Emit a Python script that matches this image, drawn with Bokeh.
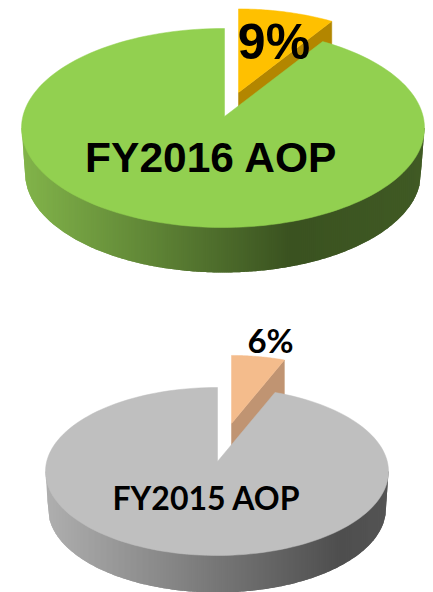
import math
from bokeh.plotting import figure
from bokeh.models import Range1d
from bokeh.core.properties import value
from bokeh.embed import file_html
from bokeh.resources import INLINE

# Data
fy2016_share = 9
fy2015_share = 6
fy2016_label = "FY2016 AOP"
fy2015_label = "FY2015 AOP"
fy2016_pct = "9%"
fy2015_pct = "6%"

PERSPECTIVE = 0.915  # foreshortening of the angle on the tilted disc

p = figure(width=433, height=592, x_range=Range1d(0, 433), y_range=Range1d(592, 0),
           output_backend="svg", toolbar_location=None, min_border=0,
           outline_line_color=None, background_fill_color="white", border_fill_color="white")
p.axis.visible = False
p.grid.visible = False


def arc(cx, cy, rx, ry, a0, a1, n=160):
    xs, ys = [], []
    for i in range(n + 1):
        t = math.radians(a0 + (a1 - a0) * i / n)
        xs.append(cx + rx * math.sin(t))
        ys.append(cy - ry * math.cos(t))
    return xs, ys


def mix(stops, x):
    for (x0, c0), (x1, c1) in zip(stops, stops[1:]):
        if x <= x1:
            f = max(0.0, (x - x0) / (x1 - x0))
            return "#%02x%02x%02x" % tuple(round(a + (b - a) * f) for a, b in zip(c0, c1))
    return "#%02x%02x%02x" % stops[-1][1]


def pie(share, c, rx, ry, apex, depth, bottom_rx, slice_apex, slice_scale,
        face, slice_face, slice_side, side_stops):
    cx, cy = c
    ax, ay = apex
    theta = 360 * share / 100 * PERSPECTIVE

    # slice: exploded copy of the wedge
    sa_x, sa_y = slice_apex
    sc_x = sa_x + slice_scale * (cx - ax)
    sc_y = sa_y + slice_scale * (cy - ay)
    srx, sry = rx * slice_scale, ry * slice_scale
    start = math.degrees(math.asin((ax - cx) / rx))
    s_start = math.degrees(math.asin((sa_x - sc_x) / srx))
    s_end = theta
    xs, ys = arc(sc_x, sc_y, srx, sry, s_start, s_end, 40)
    # slice side, drawn behind both faces
    ex, ey = xs[-1], ys[-1]
    p.patch([sa_x, ex, ex, sa_x], [sa_y, ey, ey + depth, sa_y + depth],
            fill_color=slice_side, line_color=slice_side, line_width=0.5)
    p.patch(xs + [sa_x], ys + [sa_y], fill_color=slice_face, line_color=slice_face, line_width=0.5)

    # disc side: each strip reaches past its right neighbour's start and is
    # painted over by it, so neighbouring colours meet without a seam
    by, br = cy + depth, bottom_rx

    def lower(x):
        d = abs(x - cx)
        if d >= rx:
            return cy
        if d <= br:
            return by + ry * math.sqrt(1 - (d / br) ** 2)
        return cy + depth * (rx - d) / (rx - br)

    sx, sy, cols = [], [], []
    x = cx - rx
    end = cx + rx
    while x < end:
        x1 = min(x + 2, end)
        x2 = min(x + 4, end)
        sx.append([x, x2, x2, x1, x])
        sy.append([cy, cy, lower(x2), lower(x1), lower(x)])
        cols.append(mix(side_stops, (x + x1) / 2))
        x = x1
    p.patches(sx, sy, fill_color=cols, line_color=None)

    # top face with the wedge cut out
    xs, ys = arc(cx, cy, rx, ry, theta, 360 + start)
    p.patch([ax] + xs, [ay] + ys, fill_color=face, line_color=face, line_width=0.5)


pie(fy2016_share, (222.5, 127.5), 201.5, 99.5, (224, 116), 45, 198, (238, 92), 0.95,
    "#92d050", "#ffc000", "#b38600",
    [(22, (130, 180, 74)), (290, (58, 82, 32)), (424, (64, 90, 36))])
pie(fy2015_share, (216.5, 471), 171.5, 84, (217, 461), 37, 169, (231, 423), 0.92,
    "#bfbfbf", "#f4bc8c", "#c09472",
    [(45, (175, 175, 175)), (340, (78, 78, 78)), (388, (84, 84, 84))])

p.text([273.5], [41], text=[fy2016_pct], text_font=value("Liberation Sans"), text_font_style="bold",
       text_font_size="50px", text_align="center", text_baseline="alphabetic", text_color="black")
p.text([211], [157], text=[fy2016_label], text_font=value("Liberation Sans"), text_font_style="bold",
       text_font_size="42.5px", text_align="center", text_baseline="alphabetic", text_color="black")
p.text([270], [339], text=[fy2015_pct], text_font=value("Lato"), text_font_style="bold",
       text_font_size="33px", text_align="center", text_baseline="alphabetic", text_color="black")
p.text([206], [497], text=[fy2015_label], text_font=value("Lato"), text_font_style="bold",
       text_font_size="32px", text_align="center", text_baseline="alphabetic", text_color="black")

open("out.html", "w").write(file_html(p, INLINE))
